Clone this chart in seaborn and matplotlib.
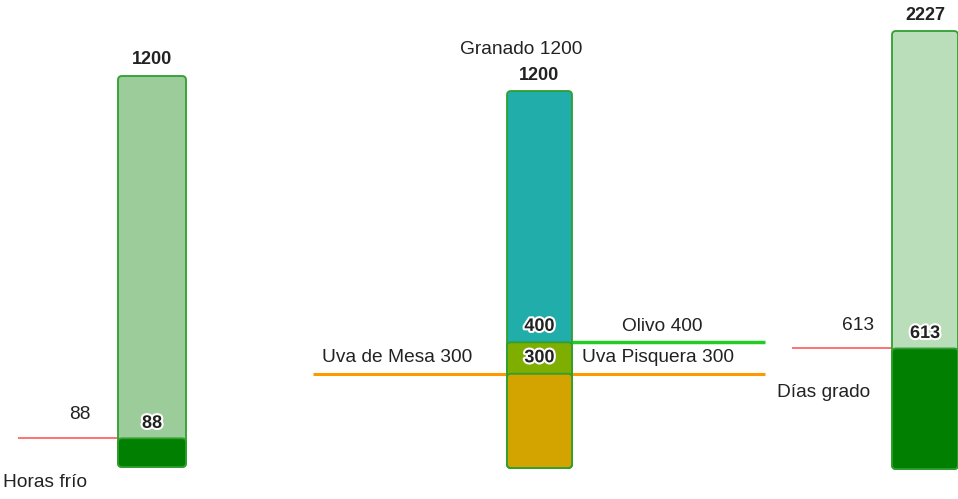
import matplotlib
matplotlib.use("Agg")
import matplotlib.pyplot as plt
import matplotlib.patheffects as pe
from matplotlib.patches import FancyBboxPatch
import seaborn as sns

# data
horas_valores = [1200, 88]          # total, cumplidas
horas_colores = ["#9bcc99", "#007f00"]
horas_label = "Horas frío"

granado_valores = [1200, 400, 300]  # Granado, Olivo, Uva
granado_colores = ["#21adaa", "#7fae00", "#d3a300"]
granado_textos = ["Granado 1200", "Olivo 400", "Uva de Mesa 300", "Uva Pisquera 300"]

dias_valores = [2227, 613]
dias_colores = ["#badeba", "#007f00"]
dias_label = "Días grado"

sns.set_theme(style="white")
plt.rcParams["font.family"] = ["Liberation Sans", "DejaVu Sans"]

W, H = 958, 499
fig = plt.figure(figsize=(W / 100, H / 100), dpi=100)

edge = "#2f9f2f"
txt = "#222222"
halo = [pe.withStroke(linewidth=3, foreground="white")]


def make_ax(left, right, top, bottom):
    return fig.add_axes([left / W, (H - bottom) / H, (right - left) / W, (bottom - top) / H])


def draw_bars(ax, valores, colores, w_px, h_px):
    for v, c in zip(valores, colores):
        sns.barplot(x=["a"], y=[v], color=c, saturation=1, width=1,
                    edgecolor=edge, linewidth=1.3, ax=ax)
    ax.set_xlim(-0.5, 0.5)
    ax.set_ylim(0, valores[0])
    ax.axis("off")
    # rounded corners like the original boxes
    xs = 1 / w_px
    ys = valores[0] / h_px
    for p in list(ax.patches):
        x, y = p.get_xy()
        fb = FancyBboxPatch((x, y), p.get_width(), p.get_height(),
                            boxstyle=f"round,pad=0,rounding_size={4 * xs}",
                            mutation_aspect=ys / xs, fc=p.get_facecolor(),
                            ec=p.get_edgecolor(), lw=p.get_linewidth(),
                            clip_on=False, zorder=2)
        p.remove()
        ax.add_patch(fb)


def label(ax, s, xy, off, bold=False, stroke=False, size=13.8):
    ax.annotate(s, xy=xy, xytext=off, textcoords="offset pixels",
                ha="center", va="center", fontsize=13 if bold else size,
                fontweight="bold" if bold else "normal", color=txt,
                annotation_clip=False, zorder=5,
                path_effects=halo if stroke else None)


# Horas frio
ax1 = make_ax(118, 186, 76, 467)
draw_bars(ax1, horas_valores, horas_colores, 68, 391)
ax1.hlines(horas_valores[1], -0.5 - 100 / 68, -0.5, color="#ff5a5a", lw=1.2, clip_on=False, zorder=1)
label(ax1, str(horas_valores[0]), (0, horas_valores[0]), (0, 16), bold=True)
label(ax1, str(horas_valores[1]), (0, horas_valores[1]), (0, 15), bold=True, stroke=True)
label(ax1, str(horas_valores[1]), (-0.5, horas_valores[1]), (-38, 24))
label(ax1, horas_label, (-0.5, horas_valores[1]), (-73, -44))

# Granado / Olivo / Uva
ax2 = make_ax(507, 572, 91, 468)
draw_bars(ax2, granado_valores, granado_colores, 65, 377)
ax2.hlines(granado_valores[2], -0.5 - 194 / 65, 0.5 + 193 / 65, color="#ff9900", lw=2.2, clip_on=False, zorder=1)
ax2.hlines(granado_valores[1], 0.5, 0.5 + 193 / 65, color="#22cc22", lw=2.5, clip_on=False, zorder=1)
label(ax2, granado_textos[0], (0, granado_valores[0]), (-18, 41))
label(ax2, str(granado_valores[0]), (0, granado_valores[0]), (0, 15), bold=True)
label(ax2, str(granado_valores[1]), (0, granado_valores[1]), (0, 16), bold=True, stroke=True)
label(ax2, str(granado_valores[2]), (0, granado_valores[2]), (0, 16), bold=True, stroke=True)
label(ax2, granado_textos[1], (0.5, granado_valores[1]), (90, 16))
label(ax2, granado_textos[3], (0.5, granado_valores[2]), (86, 16))
label(ax2, granado_textos[2], (-0.5, granado_valores[2]), (-110, 16))

# Dias grado
ax3 = make_ax(892, 958, 31, 469)
draw_bars(ax3, dias_valores, dias_colores, 66, 438)
ax3.hlines(dias_valores[1], -0.5 - 100 / 66, -0.5, color="#ff5a5a", lw=1.2, clip_on=False, zorder=1)
label(ax3, str(dias_valores[0]), (0, dias_valores[0]), (0, 16), bold=True)
label(ax3, str(dias_valores[1]), (0, dias_valores[1]), (0, 15), bold=True, stroke=True)
label(ax3, str(dias_valores[1]), (-0.5, dias_valores[1]), (-34, 23))
label(ax3, dias_label, (-0.5, dias_valores[1]), (-68, -44))

fig.savefig("out.png", dpi=100, facecolor="white")
